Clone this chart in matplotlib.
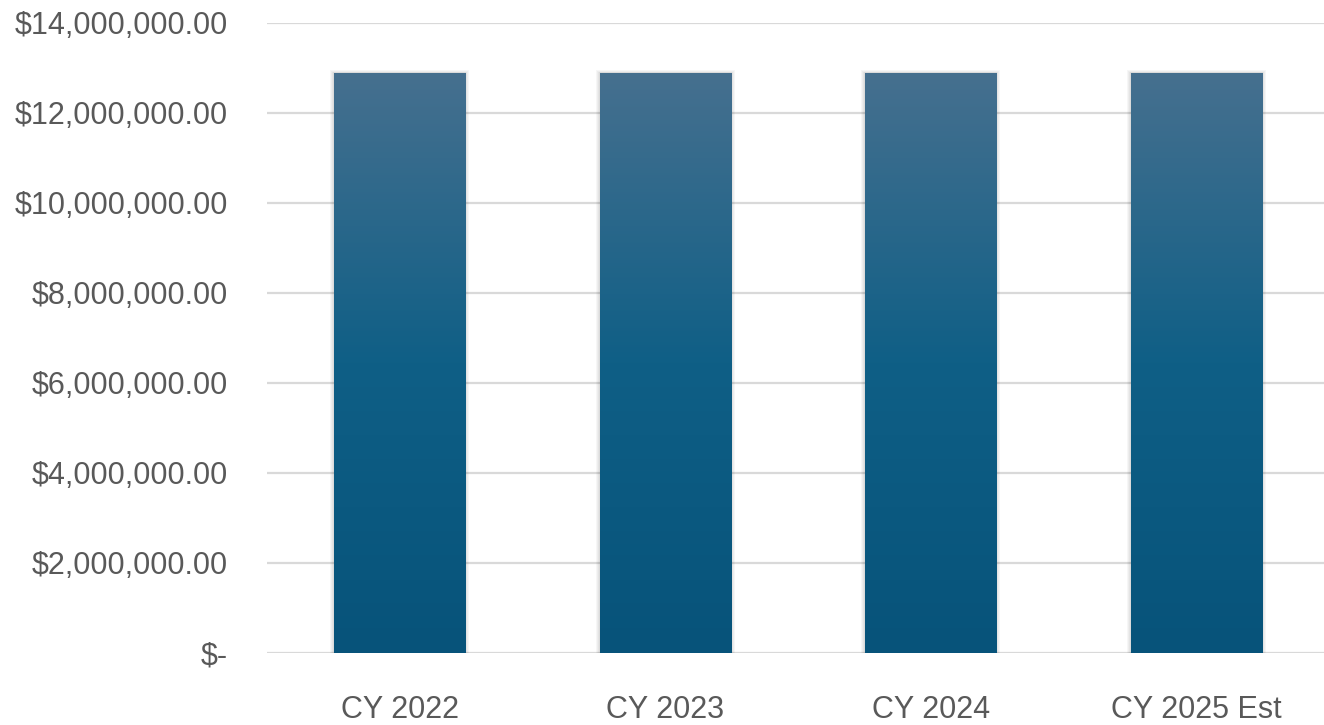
import matplotlib
matplotlib.use("Agg")
import matplotlib.pyplot as plt
import numpy as np
from matplotlib.patches import Rectangle
from matplotlib.colors import LinearSegmentedColormap

categories = ["CY 2022", "CY 2023", "CY 2024", "CY 2025 Est"]
values = [12890000, 12890000, 12890000, 12890000]
yticks = [0, 2000000, 4000000, 6000000, 8000000, 10000000, 12000000, 14000000]
ytick_labels = ["$-", "$2,000,000.00", "$4,000,000.00", "$6,000,000.00",
                "$8,000,000.00", "$10,000,000.00", "$12,000,000.00", "$14,000,000.00"]

family = "Liberation Sans"

fig = plt.figure(figsize=(13.24, 7.25), dpi=100)
ax = fig.add_axes([267/1324, 72/725, (1329-267)/1324, (653-22.7)/725])
ax.set_xlim(-0.5, len(categories) - 0.5)
ax.set_ylim(0, 14000000)

for y in yticks:
    ax.axhline(y, color="#d9d9d9", lw=1.6, zorder=0)

cmap = LinearSegmentedColormap.from_list("g", ["#07537a", "#0f5f86", "#46708f"])
grad = np.linspace(0, 1, 256).reshape(-1, 1)
width = 0.495
bars = ax.bar(range(len(categories)), values, width=width, color="none", zorder=3)
for b in bars:
    x0, w, h = b.get_x(), b.get_width(), b.get_height()
    # soft shadow
    for k in range(4):
        dx = 0.0035 * (k + 1)
        dy = 25000 * (k + 1)
        ax.add_patch(Rectangle((x0 - dx, 0), w + 2 * dx, h + dy * 0.5,
                               facecolor="black", alpha=0.035, lw=0, zorder=2))
    im = ax.imshow(grad, extent=[x0, x0 + w, 0, h], origin="lower", cmap=cmap,
                   aspect="auto", zorder=3)
    im.set_clip_path(b)
ax.set_xlim(-0.5, len(categories) - 0.5)
ax.set_ylim(0, 14000000)

ax.set_yticks(yticks)
ax.set_yticklabels(ytick_labels)
ax.set_xticks(range(len(categories)))
ax.set_xticklabels(categories)
for s in ax.spines.values():
    s.set_visible(False)
ax.tick_params(axis="both", length=0, labelcolor="#595959", labelsize=22)
ax.tick_params(axis="y", pad=28)
ax.tick_params(axis="x", pad=30)
for lab in ax.get_xticklabels() + ax.get_yticklabels():
    lab.set_family(family)

fig.savefig("out.png", dpi=100)
